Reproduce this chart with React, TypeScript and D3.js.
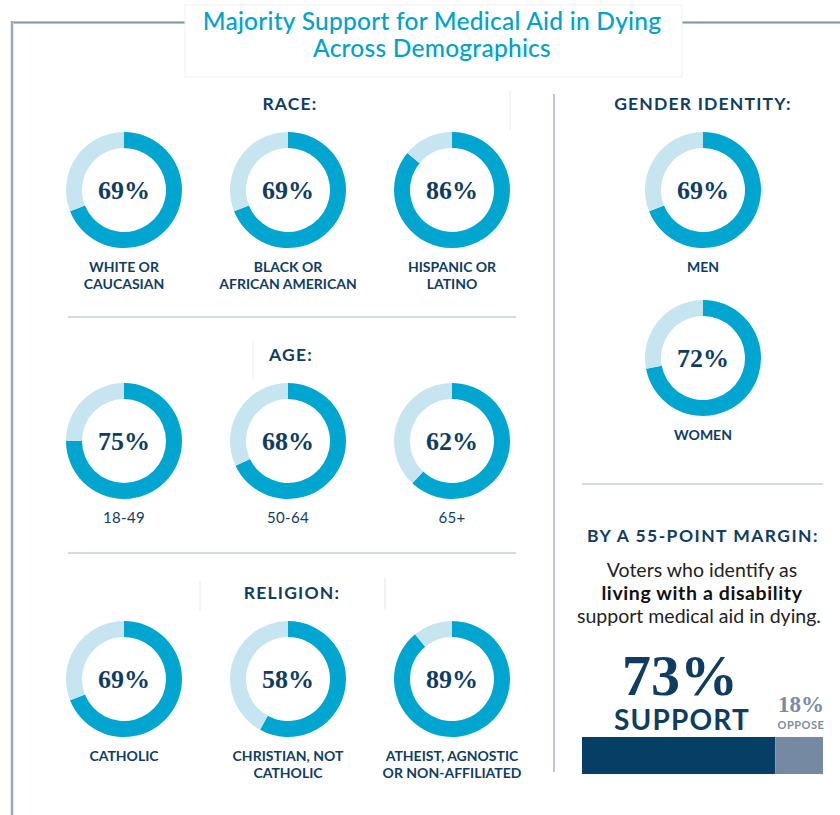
import React from "react";
import * as d3 from "d3";

const titleLines = ["Majority Support for Medical Aid in Dying", "Across Demographics"];

const raceLabels = [["WHITE OR", "CAUCASIAN"], ["BLACK OR", "AFRICAN AMERICAN"], ["HISPANIC OR", "LATINO"]];
const raceValues = [69, 69, 86];

const ageLabels = [["18-49"], ["50-64"], ["65+"]];
const ageValues = [75, 68, 62];

const religionLabels = [["CATHOLIC"], ["CHRISTIAN, NOT", "CATHOLIC"], ["ATHEIST, AGNOSTIC", "OR NON-AFFILIATED"]];
const religionValues = [69, 58, 89];

const genderLabels = [["MEN"], ["WOMEN"]];
const genderValues = [69, 72];

const disabilityCategories = ["SUPPORT", "OPPOSE"];
const disabilityValues = [73, 18];

const NAVY = "#0f3d62";
const CYAN = "#00a6cf";
const LIGHT = "#c6e5f0";
const FRAME = "#8499b3";
const SEP = "#c3cfdc";

const HEAD_FONT = "Lato, 'Open Sans', sans-serif";
const SERIF = "'Liberation Serif', 'DejaVu Serif', serif";

const arcGen = d3.arc<any>().innerRadius(42).outerRadius(58);
const pieGen = d3.pie<number>().sort(null).value((d) => d);

function Donut({ cx, cy, value, label, bold = true }: { cx: number; cy: number; value: number; label: string[]; bold?: boolean }) {
  const arcs = pieGen([value, 100 - value]);
  return (
    <g transform={`translate(${cx},${cy})`}>
      {arcs.map((a, i) => (
        <path key={i} d={arcGen(a) || ""} fill={i === 0 ? CYAN : LIGHT} />
      ))}
      <text x={0} y={9} textAnchor="middle" fontFamily={SERIF} fontWeight={700} fontSize={26} fill={NAVY}>
        {value}%
      </text>
      {label.map((l, i) => (
        <text
          key={i}
          x={0}
          y={82 + i * 17}
          textAnchor="middle"
          fontFamily={HEAD_FONT}
          fontWeight={bold ? 700 : 400}
          fontSize={bold ? 14 : 15}
          letterSpacing={bold ? 0 : 0.3}
          fill={NAVY}
        >
          {l}
        </text>
      ))}
    </g>
  );
}

function SectionTitle({ x, y, text }: { x: number; y: number; text: string }) {
  return (
    <text x={x} y={y} textAnchor="middle" fontFamily={HEAD_FONT} fontWeight={700} fontSize={17.5} letterSpacing={1.2} fill={NAVY}>
      {text}
    </text>
  );
}

export default function App() {
  const colX = d3.scalePoint<number>().domain([0, 1, 2]).range([124, 452]);
  const genderY = d3.scalePoint<number>().domain([0, 1]).range([190, 358]);

  const barX = d3.scaleLinear().domain([0, d3.sum(disabilityValues)]).range([582, 823]);
  const stacked = disabilityValues.map((v, i) => ({
    start: d3.sum(disabilityValues.slice(0, i)),
    end: d3.sum(disabilityValues.slice(0, i + 1)),
    v,
    cat: disabilityCategories[i],
  }));

  return (
    <svg width={840} height={815} style={{ position: "absolute", left: 0, top: 0, background: "#fff" }}>
      <rect x={0} y={0} width={840} height={815} fill="#fff" />
      {/* frame */}
      <line x1={12} y1={22.5} x2={185} y2={22.5} stroke="#c9d3df" strokeWidth={3} />
      <line x1={12} y1={22.5} x2={185} y2={22.5} stroke={FRAME} strokeWidth={1.5} />
      <line x1={682} y1={22.5} x2={840} y2={22.5} stroke="#c9d3df" strokeWidth={3} />
      <line x1={682} y1={22.5} x2={840} y2={22.5} stroke={FRAME} strokeWidth={1.5} />
      <line x1={12} y1={21} x2={12} y2={815} stroke="#c9d3df" strokeWidth={3} />
      <line x1={12} y1={21} x2={12} y2={815} stroke={FRAME} strokeWidth={1.5} />

      {/* title box */}
      <rect x={185} y={5} width={497} height={72} fill="#fff" stroke="#f1f1f1" strokeWidth={1} />
      {titleLines.map((t, i) => (
        <text key={i} x={432} y={30 + i * 27} textAnchor="middle" fontFamily={HEAD_FONT} fontWeight={500} fontSize={24.5} letterSpacing={0.25} fill="#00a3c9">
          {t}
        </text>
      ))}

      {/* faint vertical artifacts */}
      <line x1={510} y1={90} x2={510} y2={130} stroke="#ececec" strokeWidth={1} />
      <line x1={253} y1={341} x2={253} y2={380} stroke="#ececec" strokeWidth={1} />
      <line x1={200} y1={580} x2={200} y2={612} stroke="#ececec" strokeWidth={1} />
      <line x1={385} y1={578} x2={385} y2={610} stroke="#e4e4e4" strokeWidth={1} />

      {/* separators */}
      <line x1={68} y1={317} x2={516} y2={317} stroke={SEP} strokeWidth={1.5} />
      <line x1={68} y1={553} x2={516} y2={553} stroke={SEP} strokeWidth={1.5} />
      <line x1={582} y1={484} x2={823} y2={484} stroke={SEP} strokeWidth={1.5} />
      <line x1={554} y1={94} x2={554} y2={772} stroke="#a3b4c7" strokeWidth={1.5} />

      {/* section titles */}
      <SectionTitle x={290} y={110} text="RACE:" />
      <SectionTitle x={291} y={361} text="AGE:" />
      <SectionTitle x={292} y={599} text="RELIGION:" />
      <SectionTitle x={703} y={110} text="GENDER IDENTITY:" />

      {raceValues.map((v, i) => (
        <Donut key={"r" + i} cx={colX(i)!} cy={190} value={v} label={raceLabels[i]} />
      ))}
      {ageValues.map((v, i) => (
        <Donut key={"a" + i} cx={colX(i)!} cy={441} value={v} label={ageLabels[i]} bold={false} />
      ))}
      {religionValues.map((v, i) => (
        <Donut key={"g" + i} cx={colX(i)!} cy={679} value={v} label={religionLabels[i]} />
      ))}
      {genderValues.map((v, i) => (
        <Donut key={"s" + i} cx={703} cy={genderY(i)!} value={v} label={genderLabels[i]} />
      ))}

      {/* disability panel */}
      <text x={703} y={542} textAnchor="middle" fontFamily={HEAD_FONT} fontWeight={700} fontSize={17.5} letterSpacing={1.45} fill={NAVY}>
        BY A 55-POINT MARGIN:
      </text>
      <text x={702} y={577} textAnchor="middle" fontFamily={HEAD_FONT} fontWeight={400} fontSize={19.5} fill="#222">
        Voters who identify as
      </text>
      <text x={702} y={600} textAnchor="middle" fontFamily={HEAD_FONT} fontWeight={700} fontSize={19.5} letterSpacing={0.6} fill="#111">
        living with a disability
      </text>
      <text x={699} y={623} textAnchor="middle" fontFamily={HEAD_FONT} fontWeight={400} fontSize={19.5} fill="#222">
        support medical aid in dying.
      </text>

      <text x={680} y={695} textAnchor="middle" fontFamily={SERIF} fontWeight={700} fontSize={58} fill={NAVY}>
        {disabilityValues[0]}%
      </text>
      <text x={682} y={730} textAnchor="middle" fontFamily={HEAD_FONT} fontWeight={700} fontSize={28} letterSpacing={1.2} fill={NAVY}>
        {disabilityCategories[0]}
      </text>
      <text x={801} y={712} textAnchor="middle" fontFamily={SERIF} fontWeight={700} fontSize={23} fill="#7a8ca4">
        {disabilityValues[1]}%
      </text>
      <text x={801} y={729} textAnchor="middle" fontFamily={HEAD_FONT} fontWeight={700} fontSize={11} letterSpacing={0.5} fill="#7a8ca4">
        {disabilityCategories[1]}
      </text>
      {stacked.map((s, i) => (
        <rect key={s.cat} x={barX(s.start)} y={737} width={barX(s.end) - barX(s.start)} height={37} fill={i === 0 ? "#053f66" : "#7589a3"} />
      ))}
    </svg>
  );
}
